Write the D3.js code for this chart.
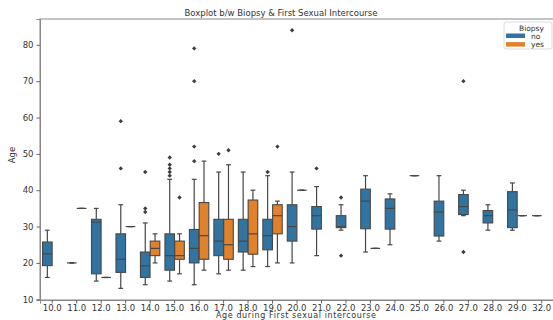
<!DOCTYPE html>
<html>
<head>
<meta charset="utf-8">
<script src="https://cdn.jsdelivr.net/npm/d3@7"></script>
<style>
  body { margin: 0; background: #fff; }
  text { font-family: "DejaVu Sans", sans-serif; }
</style>
</head>
<body>
<div id="chart"></div>
<script>
// age at first intercourse (categories on x)
var categories = ['10.0','11.0','12.0','13.0','14.0','15.0','16.0','17.0','18.0','19.0','20.0',
                  '21.0','22.0','23.0','24.0','25.0','26.0','27.0','28.0','29.0','32.0'];
var hues = ['no', 'yes'];

// [whisker low, q1, median, q3, whisker high], null = no data
var noStats = [
  [16, 19.25, 22.5, 25.75, 29],
  [20, 20, 20, 20, 20],
  [15, 17, 31.2, 32, 35],
  [13, 17.4, 21, 28, 36],
  [14, 16, 19.2, 23, 31],
  [15, 18, 22, 28, 43],
  [14, 20, 24, 29.2, 43],
  [17, 22, 26, 32, 45],
  [18, 23, 26, 32, 45],
  [19, 23.6, 27.5, 32, 44],
  [20, 26, 30, 36, 45],
  [22, 29.3, 33, 35.5, 41],
  [29, 29.7, 30, 33, 36],
  [23, 29.4, 37, 40.3, 44],
  [25, 29.3, 35, 37.6, 39],
  [44, 44, 44, 44, 44],
  [26, 27.4, 34, 37, 44],
  [33, 33.3, 35.5, 38.8, 40],
  [29, 31, 33, 34.4, 36],
  [29, 29.7, 34.6, 39.6, 42],
  [33, 33, 33, 33, 33]
];
var noOutliers = [
  [], [], [], [46, 59], [34, 35, 45], [44, 45, 46, 47, 49], [48, 52, 70, 79],
  [50], [], [45], [84], [46], [22, 38], [], [], [], [], [23, 70], [], [], []
];

var yesStats = [
  null,
  [35, 35, 35, 35, 35],
  [16, 16, 16, 16, 16],
  [30, 30, 30, 30, 30],
  [20, 22, 24, 26, 28],
  [17, 21, 22, 26, 28],
  [18, 21, 27.5, 36.6, 48],
  [18, 21, 25, 32, 47],
  [19, 22.4, 28, 37.3, 40],
  [20, 28, 33, 36, 37],
  [40, 40, 40, 40, 40],
  null, null,
  [24, 24, 24, 24, 24],
  null, null, null, null, null,
  [33, 33, 33, 33, 33],
  null
];
var yesOutliers = [
  [], [], [], [], [], [38], [], [51], [], [52], [], [], [], [], [], [], [], [], [], [], []
];

var yTicks = [10, 20, 30, 40, 50, 60, 70, 80];

var width = 553, height = 320;
var margin = { left: 40, right: -1, top: 19, bottom: 20 };
var colors = { no: '#3274a1', yes: '#e1812c' };
var lineColor = '#474747';

var svg = d3.select('#chart').append('svg')
  .attr('width', width)
  .attr('height', height);

var x = d3.scaleBand()
  .domain(categories)
  .range([margin.left, width - margin.right]);

var y = d3.scaleLinear()
  .domain([9.8, 87.1])
  .range([height - margin.bottom, margin.top]);

var hueScale = d3.scaleBand()
  .domain(hues)
  .range([0, x.bandwidth() * 0.8]);

// frame
svg.append('rect')
  .attr('x', margin.left)
  .attr('y', margin.top)
  .attr('width', x.range()[1] - margin.left)
  .attr('height', y.range()[0] - margin.top)
  .attr('fill', 'none')
  .attr('stroke', '#888')
  .attr('stroke-width', 1);

var yAxis = svg.append('g')
  .attr('transform', 'translate(' + margin.left + ',0)')
  .call(d3.axisLeft(y).tickValues(yTicks).tickSize(3.5).tickPadding(3).tickFormat(d3.format('d')));
yAxis.select('.domain').attr('stroke', '#888');
yAxis.selectAll('.tick line').attr('stroke', '#666');
yAxis.selectAll('text').attr('font-size', 8.5).attr('fill', '#333');

var xAxis = svg.append('g')
  .attr('transform', 'translate(0,' + y.range()[0] + ')')
  .call(d3.axisBottom(x).tickSize(3.5).tickPadding(1));
xAxis.select('.domain').attr('stroke', '#888');
xAxis.selectAll('.tick line').attr('stroke', '#666');
xAxis.selectAll('text').attr('font-size', 8.5).attr('fill', '#333');

// boxes
var boxes = [];
categories.forEach(function(c, i) {
  [[noStats, noOutliers, 'no'], [yesStats, yesOutliers, 'yes']].forEach(function(s) {
    if (s[0][i]) boxes.push({ cat: c, hue: s[2], st: s[0][i], out: s[1][i] });
  });
});

var boxW = hueScale.bandwidth() * 0.98;

var g = svg.selectAll('.box')
  .data(boxes)
  .enter().append('g')
  .attr('class', 'box')
  .attr('transform', function(d) {
    var cx = x(d.cat) + x.bandwidth() * 0.1 + hueScale(d.hue) + hueScale.bandwidth() / 2;
    return 'translate(' + cx + ',0)';
  });

g.append('line')
  .attr('x1', 0).attr('x2', 0)
  .attr('y1', function(d) { return y(d.st[0]); })
  .attr('y2', function(d) { return y(d.st[1]); })
  .attr('stroke', lineColor).attr('stroke-width', 1.2);
g.append('line')
  .attr('x1', 0).attr('x2', 0)
  .attr('y1', function(d) { return y(d.st[3]); })
  .attr('y2', function(d) { return y(d.st[4]); })
  .attr('stroke', lineColor).attr('stroke-width', 1.2);
g.selectAll('.cap')
  .data(function(d) { return [d.st[0], d.st[4]]; })
  .enter().append('line')
  .attr('x1', -boxW / 4).attr('x2', boxW / 4)
  .attr('y1', function(v) { return y(v); })
  .attr('y2', function(v) { return y(v); })
  .attr('stroke', lineColor).attr('stroke-width', 1.2);

g.append('rect')
  .attr('x', -boxW / 2)
  .attr('width', boxW)
  .attr('y', function(d) { return y(d.st[3]); })
  .attr('height', function(d) { return y(d.st[1]) - y(d.st[3]); })
  .attr('fill', function(d) { return colors[d.hue]; })
  .attr('stroke', lineColor)
  .attr('stroke-width', function(d) { return d.st[1] === d.st[3] ? 0.6 : 1.1; });

g.append('line')
  .attr('x1', -boxW / 2).attr('x2', boxW / 2)
  .attr('y1', function(d) { return y(d.st[2]); })
  .attr('y2', function(d) { return y(d.st[2]); })
  .attr('stroke', lineColor).attr('stroke-width', 1.2);

g.selectAll('.flier')
  .data(function(d) { return d.out; })
  .enter().append('path')
  .attr('d', d3.symbol().type(d3.symbolDiamond2).size(12))
  .attr('transform', function(v) { return 'translate(0,' + y(v) + ')'; })
  .attr('fill', '#3d3d3d');

// title and axis labels
svg.append('text')
  .attr('x', 281).attr('y', 15.5)
  .attr('text-anchor', 'middle')
  .attr('font-size', 8.5).attr('fill', '#333')
  .text('Boxplot b/w Biopsy & First Sexual Intercourse');

svg.append('text')
  .attr('x', 296).attr('y', 318)
  .attr('text-anchor', 'middle')
  .attr('font-size', 8).attr('fill', '#333')
  .attr('textLength', 160).attr('lengthAdjust', 'spacing')
  .text('Age during First sexual intercourse');

svg.append('text')
  .attr('transform', 'translate(15,155) rotate(-90)')
  .attr('text-anchor', 'middle')
  .attr('font-size', 8.5).attr('fill', '#333')
  .text('Age');

// legend
var legend = svg.append('g').attr('transform', 'translate(504,22)');
legend.append('rect')
  .attr('width', 48).attr('height', 27)
  .attr('rx', 2)
  .attr('fill', '#fff').attr('stroke', '#ddd');
legend.append('text')
  .attr('x', 27.5).attr('y', 8.5)
  .attr('text-anchor', 'middle')
  .attr('font-size', 7.5).attr('fill', '#333')
  .text('Biopsy');
hues.forEach(function(h, i) {
  legend.append('rect')
    .attr('x', 2).attr('y', 11.5 + i * 8.6)
    .attr('width', 19).attr('height', 4.5)
    .attr('fill', colors[h]);
  legend.append('text')
    .attr('x', 27).attr('y', 16.5 + i * 8.6)
    .attr('font-size', 7.5).attr('fill', '#333')
    .text(h);
});
</script>
</body>
</html>
